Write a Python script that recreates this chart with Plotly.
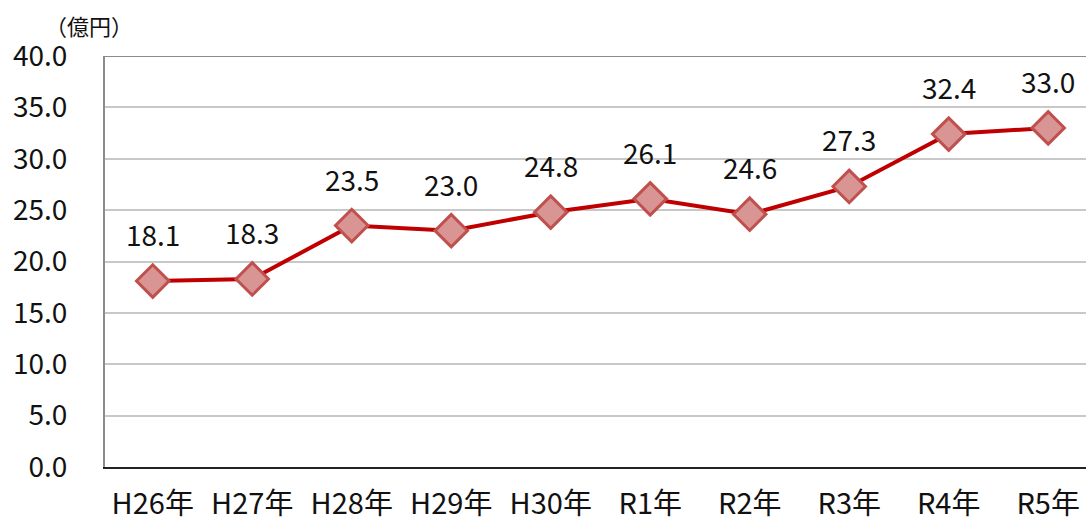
import plotly.graph_objects as go

years = ["H26年", "H27年", "H28年", "H29年", "H30年", "R1年", "R2年", "R3年", "R4年", "R5年"]
amounts = [18.1, 18.3, 23.5, 23.0, 24.8, 26.1, 24.6, 27.3, 32.4, 33.0]
y_ticks = [0, 5, 10, 15, 20, 25, 30, 35, 40]
y_tick_text = ["0.0", "5.0", "10.0", "15.0", "20.0", "25.0", "30.0", "35.0", "40.0"]

FONT = "Noto Sans CJK JP, Noto Sans, sans-serif"
x_idx = list(range(len(years)))

fig = go.Figure()
fig.add_trace(go.Scatter(
    x=x_idx, y=amounts, mode="lines+markers",
    line=dict(color="#C00000", width=4),
    marker=dict(symbol="diamond", size=25, color="#D99594",
                line=dict(color="#C0504D", width=3)),
    hoverinfo="skip", cliponaxis=False,
))

for i, v in enumerate(amounts):
    fig.add_annotation(x=i, y=v, text=f"{v:.1f}", showarrow=False,
                       yshift=47, font=dict(size=28, color="#111", family=FONT))

fig.add_shape(type="line", xref="paper", yref="y", x0=0, x1=1, y0=40, y1=40,
              line=dict(color="#8c8c8c", width=2))

fig.add_annotation(xref="paper", yref="paper", x=-0.0163, y=1.0, yshift=31,
                   text="（億円）", showarrow=False, xanchor="center", yanchor="middle",
                   font=dict(size=22, color="#111", family=FONT))

fig.update_layout(
    width=1086, height=522,
    margin=dict(l=105, r=0, t=56, b=55),
    paper_bgcolor="white", plot_bgcolor="white",
    showlegend=False,
    font=dict(family=FONT, color="#111"),
    xaxis=dict(
        range=[-0.48, 9.38], tickmode="array", tickvals=x_idx, ticktext=years,
        showgrid=False, showline=True, linecolor="#222", linewidth=2,
        ticks="", ticklabelstandoff=10, automargin=False,
        tickfont=dict(size=29, family=FONT, color="#111"), zeroline=False,
    ),
    yaxis=dict(
        range=[0, 40], tickmode="array", tickvals=y_ticks, ticktext=y_tick_text,
        showgrid=True, gridcolor="#c8c8c8", gridwidth=2,
        showline=True, linecolor="#8c8c8c", linewidth=2, zeroline=False,
        ticks="", ticklabelstandoff=30, automargin=False,
        tickfont=dict(size=28, family=FONT, color="#111"),
    ),
)

fig.write_html("out.html")
